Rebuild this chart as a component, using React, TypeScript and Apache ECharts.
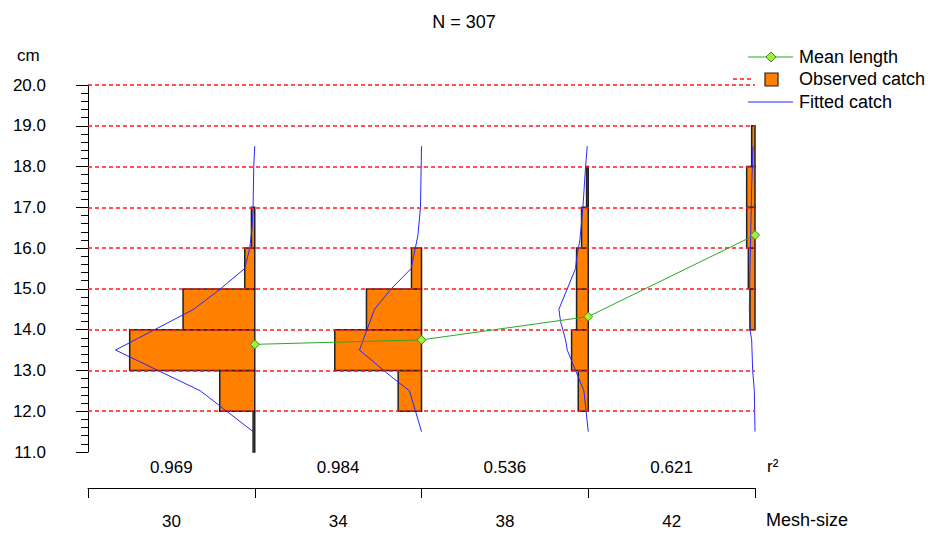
import React, { useEffect, useRef } from "react";
import * as echarts from "echarts";

// ---- data ----
const meshSizes = ["30", "34", "38", "42"];
const rSquared = ["0.969", "0.984", "0.536", "0.621"];
const totalN = 307;

// observed catch: [lower bound of length class (cm), count]
const observed30 = [[11, 1], [12, 21], [13, 75], [14, 43], [15, 6], [16, 2]];
const observed34 = [[12, 14], [13, 52], [14, 33], [15, 6]];
const observed38 = [[12, 6], [13, 10], [14, 7], [15, 7], [16, 4], [17, 1]];
const observed42 = [[14, 3], [15, 4], [16, 5], [17, 5], [18, 2]];

// fitted catch: [length (cm), fitted count]
const fitted30 = [[11.5, 1], [12.5, 32.6], [13.5, 83.5], [14.5, 36.6], [15, 20.6], [15.5, 6], [16, 3], [16.5, 1.6], [17, 1], [18, 0.6], [18.5, 0]];
const fitted34 = [[11.5, 0], [12.5, 7.2], [12.85, 18.2], [13.5, 37.2], [14.5, 28.2], [15, 18.2], [15.5, 6.2], [16.3, 2.2], [17, 0.6], [18.5, 0]];
const fitted38 = [[11.5, 0], [12.5, 2.6], [13.5, 12.6], [13.75, 13.6], [14.2, 16.6], [14.5, 17.6], [15.5, 7.6], [15.75, 7], [16.2, 5], [17, 3.2], [18, 1.6], [18.5, 0.6]];
const fitted42 = [[11.5, 0], [12.5, 0.4], [13, 1.4], [13.75, 2], [14, 3], [14.5, 3.4], [15.5, 3], [16.5, 2.5], [17.5, 2], [18.5, 1.2]];

// mean length per mesh size (cm)
const meanLength = [13.64, 13.75, 14.32, 16.32];

// horizontal reference lines (cm)
const refLines = [12, 13, 14, 15, 16, 17, 18, 19, 20];

// ---- styling constants ----
const countScale = 0.01; // band units per fish
const FONT = "'Liberation Sans', Arial, sans-serif";
const ORANGE = "#ff8000";
const GREEN = "#2aa82a";
const BLUE = "#2828ff";
const RED = "#ff1a1a";

const observedAll = [observed30, observed34, observed38, observed42];
const fittedAll = [fitted30, fitted34, fitted38, fitted42];

export default function App() {
  const ref = useRef<HTMLDivElement>(null);

  useEffect(() => {
    if (!ref.current) return;
    const chart = echarts.init(ref.current, null, { renderer: "svg" });

    const barData: number[][] = [];
    observedAll.forEach((arr, i) => {
      arr.forEach(([low, c]) => barData.push([i, low, c]));
    });

    const fittedSeries = fittedAll.map((arr, i) => ({
      name: "Fitted catch",
      type: "line",
      xAxisIndex: 0,
      yAxisIndex: 0,
      data: arr.map(([len, v]) => [i + 1 - v * countScale, len]),
      symbol: "none",
      lineStyle: { color: BLUE, width: 1 },
      z: 4,
      silent: true,
    }));

    chart.setOption({
      animation: false,
      backgroundColor: "#ffffff",
      textStyle: { fontFamily: FONT },
      title: {
        text: "N = " + totalN,
        left: "center",
        top: 8,
        textStyle: { fontSize: 18, fontWeight: "normal", color: "#000", fontFamily: FONT },
      },
      grid: { left: 88, right: 173, top: 85, bottom: 81 },
      xAxis: [
        { type: "value", min: 0, max: 4, show: false },
        {
          type: "category",
          data: rSquared,
          position: "bottom",
          offset: 0,
          axisLine: { show: false },
          axisTick: { show: false },
          splitLine: { show: false },
          axisLabel: { margin: 7, fontSize: 17, color: "#000", fontFamily: FONT },
        },
        {
          type: "category",
          data: meshSizes,
          position: "bottom",
          offset: 36,
          axisLine: { show: true, lineStyle: { color: "#000", width: 1 } },
          axisTick: { show: true, length: 10, alignWithLabel: false, lineStyle: { color: "#000" } },
          splitLine: { show: false },
          axisLabel: { margin: 25, fontSize: 17, color: "#000", fontFamily: FONT },
        },
      ],
      yAxis: {
        type: "value",
        min: 11,
        max: 20,
        interval: 1,
        offset: 18,
        axisLine: { show: true, lineStyle: { color: "#000", width: 1 } },
        axisTick: { show: true, length: 12, lineStyle: { color: "#000" } },
        minorTick: { show: true, splitNumber: 5, length: 7, lineStyle: { color: "#000" } },
        axisLabel: {
          formatter: (v: number) => v.toFixed(1),
          fontSize: 17,
          color: "#000",
          margin: 24,
          fontFamily: FONT,
        },
        splitLine: { show: false },
      },
      series: [
        {
          name: "grid",
          type: "line",
          xAxisIndex: 0,
          yAxisIndex: 0,
          data: [[0, 11]],
          symbol: "none",
          lineStyle: { opacity: 0 },
          silent: true,
          z: 1,
          markLine: {
            silent: true,
            symbol: "none",
            label: { show: false },
            lineStyle: { color: RED, type: [4, 3], width: 1.5 },
            data: refLines.map((v) => ({ yAxis: v })),
          },
        },
        {
          name: "Observed catch",
          type: "custom",
          xAxisIndex: 0,
          yAxisIndex: 0,
          data: barData,
          z: 2,
          renderItem: (params: any, api: any) => {
            const idx = api.value(0);
            const low = api.value(1);
            const c = api.value(2);
            const p1 = api.coord([idx + 1 - c * countScale, low + 1]);
            const p2 = api.coord([idx + 1, low]);
            return {
              type: "rect",
              shape: { x: p1[0], y: p1[1], width: p2[0] - p1[0], height: p2[1] - p1[1] },
              style: { fill: ORANGE, stroke: "#222", lineWidth: 1.5 },
            };
          },
        },
        ...fittedSeries,
        {
          name: "Mean length",
          type: "line",
          xAxisIndex: 0,
          yAxisIndex: 0,
          data: meanLength.map((m, i) => [i + 1, m]),
          symbol: "diamond",
          symbolSize: 9,
          itemStyle: { color: "#a0f040", borderColor: "#3c8c10", borderWidth: 1 },
          lineStyle: { color: GREEN, width: 1 },
          z: 6,
        },
      ],
      graphic: [
        { type: "text", left: 17, top: 47, style: { text: "cm", fontSize: 17, fill: "#000", fontFamily: FONT } },
        { type: "text", left: 767, top: 458, style: { text: "r²", fontSize: 17, fill: "#000", fontFamily: FONT } },
        { type: "text", left: 766, top: 511, style: { text: "Mesh-size", fontSize: 18, fill: "#000", fontFamily: FONT } },
        // legend
        { type: "line", shape: { x1: 748, y1: 57, x2: 793, y2: 57 }, style: { stroke: GREEN, lineWidth: 1 } },
        {
          type: "polygon",
          shape: { points: [[771, 52], [776, 57], [771, 62], [766, 57]] },
          style: { fill: "#a0f040", stroke: "#3c8c10", lineWidth: 1 },
        },
        { type: "text", x: 799, y: 57, style: { text: "Mean length", fontSize: 18, fill: "#000", fontFamily: FONT, verticalAlign: "middle" } },
        { type: "line", shape: { x1: 733, y1: 79, x2: 752, y2: 79 }, style: { stroke: RED, lineWidth: 1.5, lineDash: [4, 3] } },
        { type: "rect", shape: { x: 765, y: 73, width: 13, height: 13 }, style: { fill: ORANGE, stroke: "#222", lineWidth: 1.2 } },
        { type: "text", x: 799, y: 79, style: { text: "Observed catch", fontSize: 18, fill: "#000", fontFamily: FONT, verticalAlign: "middle" } },
        { type: "line", shape: { x1: 748, y1: 102, x2: 793, y2: 102 }, style: { stroke: BLUE, lineWidth: 1 } },
        { type: "text", x: 799, y: 102, style: { text: "Fitted catch", fontSize: 18, fill: "#000", fontFamily: FONT, verticalAlign: "middle" } },
      ],
    });

    return () => chart.dispose();
  }, []);

  return (
    <div
      ref={ref}
      style={{ position: "fixed", left: 0, top: 0, width: 928, height: 533, background: "#fff" }}
    />
  );
}
